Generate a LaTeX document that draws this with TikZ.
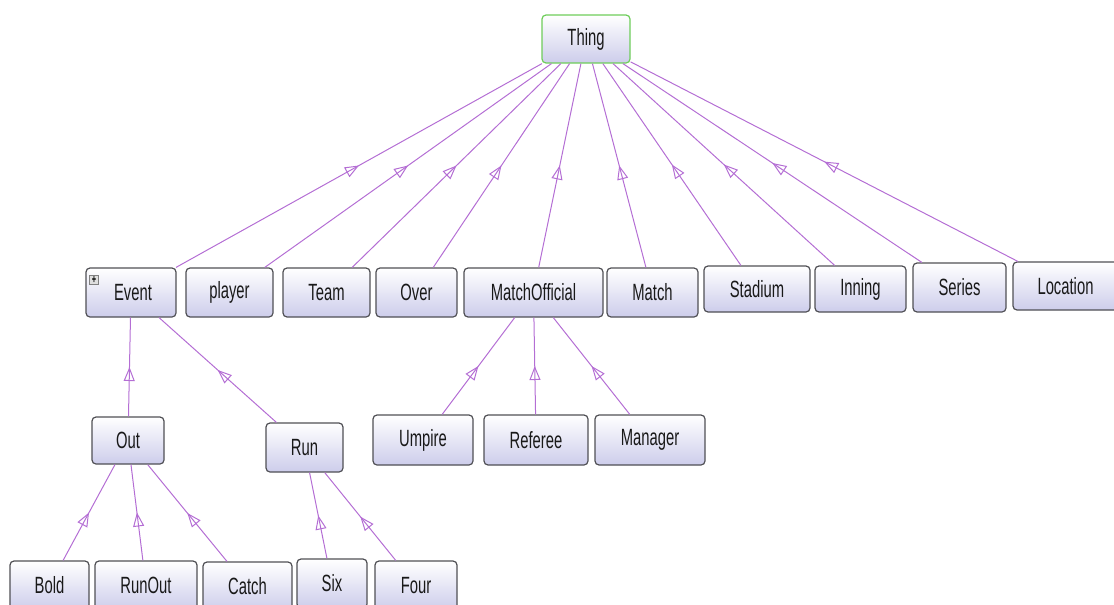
\documentclass[tikz,border=0pt]{standalone}
\usepackage{fontspec}
\setmainfont{Liberation Sans}[FakeStretch=0.63]
\usetikzlibrary{arrows.meta,decorations.markings}
\definecolor{edgec}{RGB}{180,110,212}
\definecolor{boxline}{RGB}{80,80,85}
\definecolor{boxbot}{RGB}{205,205,235}
\definecolor{thingline}{RGB}{110,205,90}
\tikzset{
  cls/.style={draw=boxline, line width=1.2pt, rounded corners=4pt, top color=white, bottom color=boxbot,
    inner sep=0pt, font=\fontsize{23.5}{25}\selectfont, text=black!90},
  thingbox/.style={cls, draw=thingline},
  isa/.style={draw=edgec, line width=1pt, postaction={decorate},
    decoration={markings, mark=at position 0.5 with {\arrow{Triangle[open, length=14pt, width=11pt, line width=1pt]}}}},
  plusbox/.style={draw=gray, fill=gray!25, minimum size=9pt, inner sep=0pt, line width=0.5pt,
    font=\fontsize{12}{12}\selectfont\bfseries}
}
\begin{document}
\begin{tikzpicture}[x=1pt,y=-1pt]
\useasboundingbox (0,0) rectangle (1114,605);
% root
\node[thingbox, minimum width=88pt, minimum height=48pt] (thing) at (586,39) {Thing};
% row 1
\node[cls, minimum width=90pt, minimum height=49pt] (event) at (131,292.5) {\hspace*{4pt}Event};
\node[plusbox] (evplus) at (94,280) {+};
\node[cls, minimum width=87pt, minimum height=49pt] (player) at (229.5,292.5) {player};
\node[cls, minimum width=87pt, minimum height=49pt] (team) at (326.5,292.5) {Team};
\node[cls, minimum width=81pt, minimum height=49pt] (over) at (416.5,292.5) {Over};
\node[cls, minimum width=139pt, minimum height=49pt] (mo) at (533.5,292.5) {MatchOfficial};
\node[cls, minimum width=91pt, minimum height=49pt] (match) at (652.5,292.5) {Match};
\node[cls, minimum width=106pt, minimum height=46pt] (stadium) at (757,289) {Stadium};
\node[cls, minimum width=91pt, minimum height=46pt] (inning) at (860.5,289) {Inning};
\node[cls, minimum width=93pt, minimum height=49pt] (series) at (959.5,287.5) {Series};
\node[cls, minimum width=105pt, minimum height=48pt] (location) at (1065.5,286) {Location};
% row 2
\node[cls, minimum width=72pt, minimum height=47pt] (out) at (128,440.5) {Out};
\node[cls, minimum width=77pt, minimum height=49pt] (run) at (304.5,447.5) {Run};
\node[cls, minimum width=100pt, minimum height=50pt] (umpire) at (423,440) {Umpire};
\node[cls, minimum width=104pt, minimum height=50pt] (referee) at (536,440) {Referee};
\node[cls, minimum width=110pt, minimum height=50pt] (manager) at (650,440) {Manager};
% row 3
\node[cls, minimum width=79pt, minimum height=49pt] (bold) at (49.5,585.5) {Bold};
\node[cls, minimum width=102pt, minimum height=49pt] (runout) at (146,585.5) {RunOut};
\node[cls, minimum width=89pt, minimum height=49pt] (catch) at (247.5,586.5) {Catch};
\node[cls, minimum width=70pt, minimum height=49pt] (six) at (332,583.5) {Six};
\node[cls, minimum width=82pt, minimum height=49pt] (four) at (416,585.5) {Four};
% edges
\foreach \c in {event,player,team,over,mo,match,stadium,inning,series,location}
  \draw[isa] (\c) -- (thing);
\draw[isa] (out) -- (event);
\draw[isa] (run) -- (event);
\draw[isa] (bold) -- (out);
\draw[isa] (runout) -- (out);
\draw[isa] (catch) -- (out);
\draw[isa] (six) -- (run);
\draw[isa] (four) -- (run);
\draw[isa] (umpire) -- (mo);
\draw[isa] (referee) -- (mo);
\draw[isa] (manager) -- (mo);
\end{tikzpicture}
\end{document}
